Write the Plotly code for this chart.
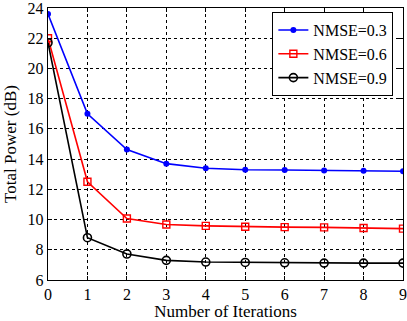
import plotly.graph_objects as go

iterations = [0, 1, 2, 3, 4, 5, 6, 7, 8, 9]
nmse_03 = [23.6, 17.0, 14.63, 13.7, 13.4, 13.3, 13.28, 13.25, 13.23, 13.2]
nmse_06 = [22.0, 12.5, 10.07, 9.67, 9.58, 9.52, 9.5, 9.48, 9.44, 9.4]
nmse_09 = [21.7, 8.8, 7.72, 7.3, 7.19, 7.16, 7.14, 7.12, 7.12, 7.12]
series_names = ["NMSE=0.3", "NMSE=0.6", "NMSE=0.9"]
y_ticks = [6, 8, 10, 12, 14, 16, 18, 20, 22, 24]

FONT = "Liberation Serif, Times New Roman, Times, serif"

fig = go.Figure()
fig.add_trace(go.Scatter(x=iterations, y=nmse_03, name=series_names[0], mode="lines+markers",
                         line=dict(color="#0000ff", width=1.6),
                         marker=dict(symbol="circle", size=6, color="#0000ff")))
fig.add_trace(go.Scatter(x=iterations, y=nmse_06, name=series_names[1], mode="lines+markers",
                         line=dict(color="#ff0000", width=1.6),
                         marker=dict(symbol="square-open", size=7, color="#ff0000", line=dict(width=1.4))))
fig.add_trace(go.Scatter(x=iterations, y=nmse_09, name=series_names[2], mode="lines+markers",
                         line=dict(color="#000000", width=1.6),
                         marker=dict(symbol="circle-open", size=8, color="#000000", line=dict(width=1.6))))

axis_common = dict(showline=True, linecolor="black", linewidth=1.4, mirror="ticks",
                   ticks="inside", ticklen=4, tickcolor="black",
                   showgrid=True, gridcolor="black", griddash="dot", gridwidth=1,
                   zeroline=False, ticklabeloverflow="allow",
                   tickfont=dict(family=FONT, size=16, color="black"))

fig.update_xaxes(range=[0, 9], tickmode="array", tickvals=iterations,
                 title=dict(text="Number of Iterations", font=dict(family=FONT, size=17, color="black"), standoff=0),
                 **axis_common)
fig.update_yaxes(range=[6, 24], tickmode="array", tickvals=y_ticks,
                 title=dict(text="Total Power (dB)", font=dict(family=FONT, size=17, color="black"), standoff=6),
                 **axis_common)

fig.update_layout(
    width=407, height=321,
    margin=dict(l=48, r=0, t=7, b=41),
    paper_bgcolor="white", plot_bgcolor="white",
    showlegend=True,
    legend=dict(x=0.632, y=0.985, xanchor="left", yanchor="top",
                bgcolor="white", bordercolor="black", borderwidth=1,
                font=dict(family=FONT, size=16, color="black"),
                tracegroupgap=0, itemwidth=30),
)

fig.write_html("out.html", config={"displayModeBar": False},
               post_script="document.body.style.margin='0';document.body.style.padding='0';")
